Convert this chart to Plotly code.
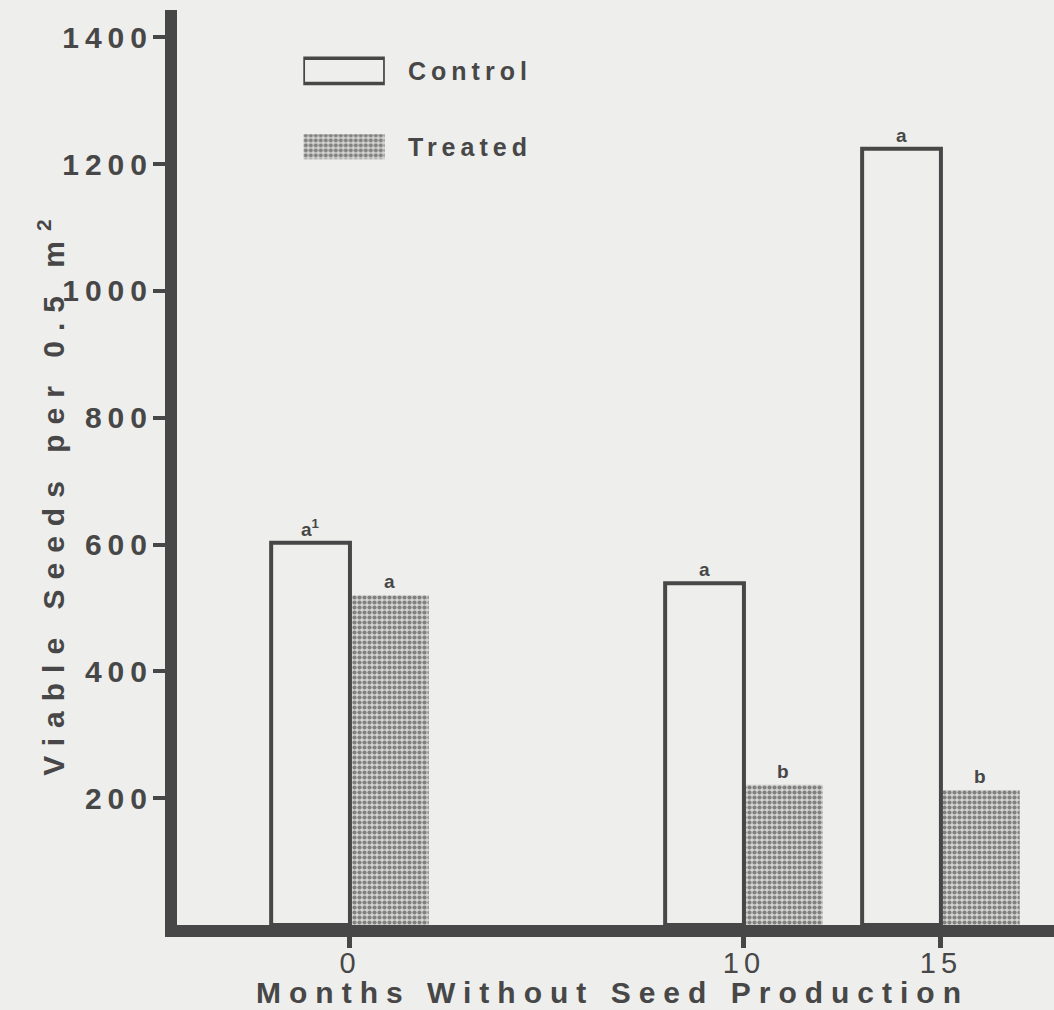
import plotly.graph_objects as go

# ---- data ----
months = [0, 10, 15]
month_labels = ["0", "10", "15"]
control = [603, 539, 1224]
treated = [520, 221, 213]
control_letters = ["a<sup>1</sup>", "a", "a"]
treated_letters = ["a", "b", "b"]
y_ticks = [200, 400, 600, 800, 1000, 1200, 1400]
series_names = ["Control", "Treated"]
x_title = "Months Without Seed Production"
y_title = "Viable Seeds per 0.5 m<sup>2</sup>"

INK = "#474747"
BG = "#eeeeec"
FONT = "Liberation Sans"
DOTS = dict(shape=".", fgcolor="#2e2e2e", bgcolor="#d4d4d2", size=5, solidity=0.55)

fig = go.Figure()

# Treated first so the Control outline sits on top
fig.add_trace(go.Bar(
    x=months, y=treated, name="Treated", offset=0, width=2,
    marker=dict(color="#d4d4d2", pattern=DOTS, line=dict(width=0)),
    showlegend=False,
))
fig.add_trace(go.Bar(
    x=months, y=control, name="Control", offset=-2, width=2,
    marker=dict(color="rgba(0,0,0,0)", line=dict(color=INK, width=4)),
    showlegend=False,
))

# significance letters (annotation indices 0-5)
for m, v, t in zip(months, control, control_letters):
    fig.add_annotation(x=m - 1, y=v, text=t, showarrow=False, yanchor="bottom",
                       yshift=1, font=dict(family=FONT, size=19, color=INK, weight="bold"))
for m, v, t in zip(months, treated, treated_letters):
    fig.add_annotation(x=m + 1, y=v, text=t, showarrow=False, yanchor="bottom",
                       yshift=1, font=dict(family=FONT, size=19, color=INK, weight="bold"))

# custom legend keys drawn on an overlay axis
fig.add_trace(go.Bar(
    x=[1], y=[1], orientation="h", width=0.33, xaxis="x2", yaxis="y2",
    marker=dict(color="rgba(0,0,0,0)", line=dict(color=INK, width=3.5)),
    showlegend=False, hoverinfo="skip",
))
fig.add_trace(go.Bar(
    x=[1], y=[0], orientation="h", width=0.33, xaxis="x2", yaxis="y2",
    marker=dict(color="#d4d4d2", pattern=DOTS, line=dict(width=0)),
    showlegend=False, hoverinfo="skip",
))
# legend labels (indices 6, 7)
for yy, name in zip([1, 0], series_names):
    fig.add_annotation(xref="paper", yref="y2", x=0.261, y=yy, text=name,
                       showarrow=False, xanchor="left", yanchor="middle", align="left",
                       font=dict(family=FONT, size=25, color=INK, weight="bold"))

# y axis title (index 8)
fig.add_annotation(xref="paper", yref="paper", x=-0.143, y=0.472,
                   text=y_title, textangle=-90,
                   showarrow=False, xanchor="center", yanchor="middle",
                   font=dict(family=FONT, size=30, color=INK, weight="bold"))
# x axis title (index 9)
fig.add_annotation(xref="paper", yref="paper", x=0.497, y=-0.0735,
                   text=x_title, showarrow=False, xanchor="center", yanchor="middle",
                   font=dict(family=FONT, size=30, color=INK, weight="bold"))

fig.update_layout(
    width=1054, height=1010,
    margin=dict(l=177, r=0, t=10, b=85),
    paper_bgcolor=BG, plot_bgcolor=BG,
    barmode="overlay",
    xaxis=dict(range=[-4.39, 17.87], tickvals=months, ticktext=month_labels,
               ticks="outside", ticklen=11, tickwidth=5, tickcolor=INK,
               ticklabelstandoff=-10,
               showline=True, linewidth=12, linecolor=INK,
               showgrid=False, zeroline=False,
               tickfont=dict(family=FONT, size=29, color=INK)),
    yaxis=dict(range=[0, 1443], tickvals=y_ticks,
               ticks="outside", ticklen=12, tickwidth=4, tickcolor=INK,
               ticklabelstandoff=-6,
               showline=True, linewidth=12, linecolor=INK,
               showgrid=False, zeroline=False,
               tickfont=dict(family=FONT, size=30, color=INK, weight="bold")),
    xaxis2=dict(domain=[0.144, 0.237], range=[0, 1], anchor="y2",
                visible=False, fixedrange=True),
    yaxis2=dict(domain=[0.809, 0.975], range=[-0.5, 1.5], anchor="x2",
                visible=False, fixedrange=True),
)

css = (
    "body{margin:0;background:#eeeeec;}"
    ".ytick text{letter-spacing:6px;}"
    ".xtick text{letter-spacing:5px;}"
    "g.annotation[data-index='6'] text, g.annotation[data-index='7'] text{letter-spacing:5px;}"
    "g.annotation[data-index='8'] text{letter-spacing:10px;}"
    "g.annotation[data-index='9'] text{letter-spacing:8px;}"
)
post = ("var s=document.createElement('style');s.textContent=" + repr(css) +
        ";document.head.appendChild(s);")

fig.write_html("out.html", post_script=post, config={"displayModeBar": False})
